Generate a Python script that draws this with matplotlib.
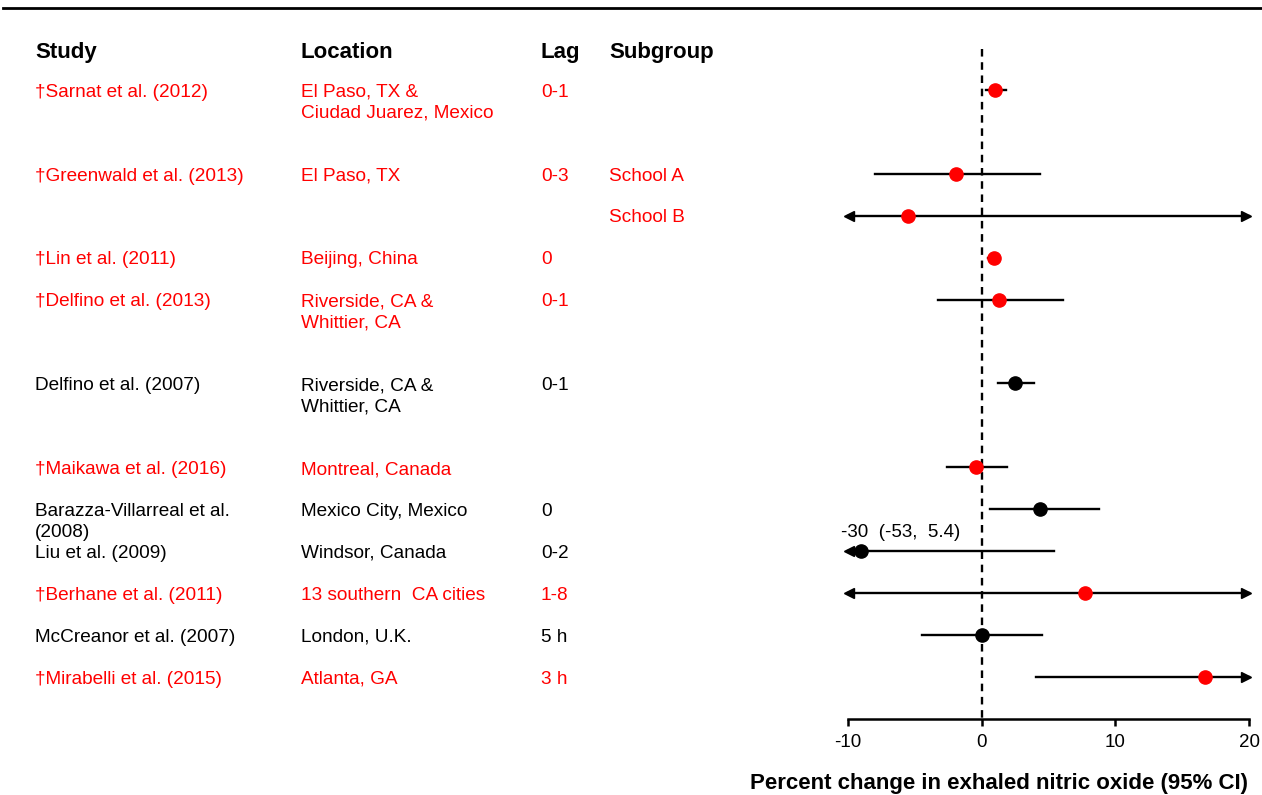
import numpy as np
import matplotlib
matplotlib.use('Agg')
import matplotlib.pyplot as plt
from matplotlib.lines import Line2D
from matplotlib.transforms import blended_transform_factory

plt.rcParams['font.family'] = ['Liberation Sans', 'DejaVu Sans']

# rows of the forest plot (row index = vertical slot)
rows = [0, 2, 3, 4, 5, 7, 9, 10, 11, 12, 13, 14]
studies = ['\u2020Sarnat et al. (2012)', '\u2020Greenwald et al. (2013)', '',
           '\u2020Lin et al. (2011)', '\u2020Delfino et al. (2013)', 'Delfino et al. (2007)',
           '\u2020Maikawa et al. (2016)', 'Barazza-Villarreal et al.\n(2008)', 'Liu et al. (2009)',
           '\u2020Berhane et al. (2011)', 'McCreanor et al. (2007)', '\u2020Mirabelli et al. (2015)']
locations = ['El Paso, TX &\nCiudad Juarez, Mexico', 'El Paso, TX', '',
             'Beijing, China', 'Riverside, CA &\nWhittier, CA', 'Riverside, CA &\nWhittier, CA',
             'Montreal, Canada', 'Mexico City, Mexico', 'Windsor, Canada',
             '13 southern  CA cities', 'London, U.K.', 'Atlanta, GA']
lags = ['0-1', '0-3', '', '0', '0-1', '0-1', '', '0', '0-2', '1-8', '5 h', '3 h']
subgroups = ['', 'School A', 'School B', '', '', '', '', '', '', '', '', '']
is_red = [True, True, True, True, True, False, True, False, False, True, False, True]

# percent change and 95% CI (values beyond the axis are drawn as arrows)
est = [1.0, -1.9, -5.5, 0.9, 1.3, 2.5, -0.4, 4.4, -30, 7.7, 0.0, 16.7]
lo = [0.3, -8.0, -25, 0.5, -3.3, 1.2, -2.6, 0.6, -53, -15, -4.5, 4.1]
hi = [1.8, 4.4, 30, 1.3, 6.1, 3.9, 1.9, 8.8, 5.4, 35, 4.5, 30]

xmin, xmax = -10, 20
xticks = [-10, 0, 10, 20]

W, H = 1262, 795
fig = plt.figure(figsize=(W / 100, H / 100), dpi=100)
ax = fig.add_axes([848 / W, 1 - 719 / H, (1249 - 848) / W, (719 - 40) / H])
ax.set_xlim(xmin, xmax)
ax.set_ylim(15, (40 - 90) / 42)
ax.patch.set_visible(False)
for s in ['top', 'right', 'left']:
    ax.spines[s].set_visible(False)
ax.spines['bottom'].set_linewidth(1.8)
ax.set_yticks([])
ax.set_xticks(xticks)
ax.set_xticklabels([str(t) for t in xticks], fontsize=13.5)
ax.tick_params(axis='x', direction='out', length=5, width=1.8, pad=6)

ax.plot([0, 0], [-0.98, 15], color='black', linestyle=(0, (3.2, 2.4)), linewidth=1.7, clip_on=False)

for r, e, l, h, red in zip(rows, est, lo, hi, is_red):
    c = '#FF0000' if red else 'black'
    ax.plot([max(l, xmin), min(h, xmax)], [r, r], color='black', linewidth=1.7, clip_on=False)
    if l < xmin:
        ax.plot([xmin + 0.05], [r], marker='<', color='black', markersize=7, clip_on=False)
    if h > xmax:
        ax.plot([xmax - 0.2], [r], marker='>', color='black', markersize=7, clip_on=False)
    ax.plot([max(e, xmin + 1)], [r], marker='o', color=c, markersize=9.5, clip_on=False, zorder=5)
    if e < xmin:
        ax.text(xmin - 0.5, r - 0.34, f'{e:g}  ({l:g},  {h:g})', fontsize=13.5,
                ha='left', va='baseline')

# text columns
tr = blended_transform_factory(fig.transFigure, ax.transData)
col_x = [35, 301, 541, 609]
headers = ['Study', 'Location', 'Lag', 'Subgroup']
for x, hd in zip(col_x, headers):
    ax.text(x / W, -0.76, hd, transform=tr, fontsize=16, fontweight='bold', ha='left', va='baseline')

for i, r in enumerate(rows):
    c = '#FF0000' if is_red[i] else 'black'
    for x, col in zip(col_x, [studies, locations, lags, subgroups]):
        for k, line in enumerate(col[i].split('\n')):
            if line:
                ax.text(x / W, r + 0.5 * k + 0.16, line, transform=tr, fontsize=13.7, color=c,
                        ha='left', va='baseline')

fig.text(1248 / W, 1 - 783 / H, 'Percent change in exhaled nitric oxide (95% CI)',
         fontsize=16, fontweight='bold', ha='right', va='center')

fig.add_artist(Line2D([3 / W, 1], [1 - 8 / H, 1 - 8 / H], color='black', linewidth=2))

fig.savefig('out.png', dpi=100)
